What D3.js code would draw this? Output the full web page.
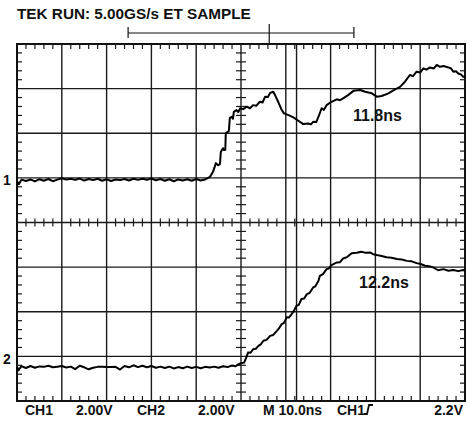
<!DOCTYPE html>
<meta charset="utf-8">
<head>
<script src="https://cdn.jsdelivr.net/npm/d3@7"></script>
<style>
body { margin: 0; background: #fff; }
text { font-family: "Liberation Sans", Arial, sans-serif; font-weight: bold; fill: #111; }
</style>
</head>
<body>
<div id="scope"></div>
<script>
// scope settings
var titleText = "TEK RUN: 5.00GS/s ET SAMPLE";
var footerLabels = ["CH1", "2.00V", "CH2", "2.00V", "M 10.0ns", "CH1", "2.2V"];
var footerX = [25, 76, 137, 198, 263, 337, 463];
var voltsPerDiv = 2;
var ch1Pos = 0.95;   // ground marker, divisions above centre
var ch2Pos = -3.08;
var cursorTimes = [24.8, 75.2];   // ns, time bar ends
var triggerTime = 56.3;
var extraCursor = 62.4;
var measureLabels = ["11.8ns", "12.2ns"];

// CH1 trace [ns, V]
var ch1 = [
  [0,-0.05],[0.4,-0.18],[1,0.02],[2,-0.04],[3,0.03],[4,-0.06],[5,0.04],[6,-0.03],[7,0.05],[8,-0.05],
  [9,0.02],[10,0.08],[11,0.03],[12,0.06],[13,0.01],[14,0.07],[15,-0.02],[16,0.05],[17,0.0],[18,0.06],
  [19,-0.03],[20,0.04],[21,-0.04],[22,0.03],[23,0.0],[24,0.05],[25,-0.02],[26,0.06],[27,0.01],[28,0.06],
  [29,0.02],[30,0.07],[31,-0.01],[32,0.05],[33,-0.03],[34,0.04],[35,-0.05],[36,0.03],[37,-0.02],[38,0.04],
  [39,-0.03],[40,0.05],[41,-0.02],[42,0.03],
  [43.1,0.15],[43.75,0.37],[44.4,0.76],[44.9,0.67],[45.3,0.72],[45.5,1.27],[46.0,1.43],[46.2,1.35],
  [46.5,1.36],[46.6,2.11],[47.1,2.17],[47.3,2.2],[47.5,2.78],[47.9,2.84],[48.2,2.75],[48.4,3.06],
  [49.0,3.14],[49.4,3.05],[49.8,3.22],[50.5,3.18],[51.3,3.29],[52.0,3.22],[52.7,3.36],[53.4,3.33],
  [54.2,3.51],[54.8,3.48],[55.4,3.74],[56.0,3.72],[56.5,3.91],[57.2,3.96],[57.6,3.81],[58.3,3.51],
  [59.1,3.14],[59.6,2.99],[60.6,2.91],[61.7,2.81],[62.8,2.66],[63.9,2.51],[65.0,2.54],[65.6,2.5],
  [66.1,2.61],[66.8,2.6],[67.3,2.84],[68.0,3.22],[68.5,3.15],[69.1,3.36],[70.2,3.51],[71.4,3.62],
  [72.1,3.58],[72.8,3.66],[73.9,3.81],[75.1,4.0],[76.6,4.04],[77.7,3.96],[79.2,3.89],[80.3,3.74],
  [81.4,3.77],[82.9,3.89],[84.4,4.07],[85.5,4.18],[86.6,4.41],[87.7,4.71],[88.4,4.66],[89.2,4.86],
  [90.0,4.82],[90.7,5.01],[91.4,4.95],[92.2,5.05],[93.0,5.0],[93.7,5.16],[94.4,5.08],[95.2,5.11],
  [96.3,5.05],[96.9,5.0],[97.4,4.86],[98.0,4.88],[98.5,4.78],[99.1,4.74],[99.6,4.63],[100,4.62]
];

// CH2 trace [ns, V]
var ch2 = [
  [0,-0.3],[0.3,-0.47],[1,-0.28],[2,-0.36],[3,-0.27],[4,-0.35],[5,-0.29],[6,-0.31],[7,-0.26],[8,-0.33],
  [9,-0.3],[10,-0.27],[11,-0.34],[12,-0.3],[13,-0.41],[14,-0.26],[15,-0.33],[16,-0.42],[17,-0.35],[18,-0.31],
  [19,-0.31],[20,-0.32],[21,-0.32],[22,-0.31],[23,-0.43],[24,-0.27],[25,-0.33],[26,-0.24],[27,-0.32],[28,-0.26],
  [29,-0.33],[30,-0.27],[31,-0.35],[32,-0.3],[33,-0.36],[34,-0.3],[35,-0.38],[36,-0.32],[37,-0.37],[38,-0.3],
  [39,-0.36],[40,-0.31],[41,-0.37],[42,-0.31],[43,-0.34],[44,-0.3],[45,-0.35],[46,-0.28],[47,-0.32],
  [48,-0.25],[48.8,-0.28],[49.4,-0.19],[50.2,-0.14],[50.7,-0.12],[51.1,0.07],[51.6,0.34],[52.1,0.32],
  [52.7,0.48],[53.3,0.5],[53.9,0.63],[54.4,0.7],[55.0,0.86],[55.7,0.9],[56.5,1.08],[57.2,1.12],
  [58.0,1.3],[58.5,1.42],[59.1,1.61],[59.6,1.66],[60.2,1.91],[60.7,1.9],[61.3,2.05],[61.8,2.2],
  [62.4,2.43],[62.9,2.47],[63.5,2.73],[64.1,2.75],[64.7,2.95],[65.3,3.0],[66.1,3.25],[66.6,3.3],
  [67.3,3.55],[67.6,3.77],[68.3,3.85],[69.1,4.07],[69.6,4.1],[70.2,4.25],[71.4,4.37],[72.1,4.38],
  [72.8,4.55],[73.6,4.6],[74.7,4.78],[75.8,4.8],[76.9,4.85],[77.8,4.8],[78.8,4.82],[79.5,4.74],
  [80.3,4.7],[81.4,4.66],[82.5,4.6],[83.6,4.58],[84.8,4.52],[85.9,4.5],[87.0,4.44],[88.1,4.42],
  [89.2,4.34],[90.1,4.3],[91.1,4.22],[92.0,4.2],[92.9,4.15],[94.0,4.02],[95.2,4.07],[96.3,4.0],
  [97.4,4.03],[98.5,3.98],[99.6,4.03],[100,4.0]
];

var width = 469, height = 427;
var gx0 = 17, gx1 = 465, gy0 = 44, gy1 = 401;

var x = d3.scaleLinear().domain([0, 100]).range([gx0, gx1]);
var y = d3.scaleLinear().domain([-4, 4]).range([gy1, gy0]);

var svg = d3.select("#scope").append("svg")
    .attr("width", width)
    .attr("height", height);

// title
svg.append("text")
    .attr("x", 17).attr("y", 19)
    .style("font-size", "15.3px")
    .text(titleText);

// time cursor bar above graticule
var bar = svg.append("g").attr("stroke", "#111").attr("stroke-width", 1.2);
bar.append("line").attr("x1", x(cursorTimes[0])).attr("x2", x(cursorTimes[1]))
    .attr("y1", 33).attr("y2", 33);
cursorTimes.forEach(function(t) {
  bar.append("line").attr("x1", x(t)).attr("x2", x(t)).attr("y1", 27).attr("y2", 38);
});
bar.append("line").attr("x1", x(triggerTime)).attr("x2", x(triggerTime))
    .attr("y1", 24).attr("y2", gy0);

// graticule
var grid = svg.append("g").attr("stroke", "#1a1a1a").attr("stroke-width", 1.4);
d3.range(1, 10).forEach(function(i) {
  var t = i * 10;
  grid.append("line").attr("x1", x(t)).attr("x2", x(t)).attr("y1", gy0).attr("y2", gy1);
});
d3.range(-3, 4).forEach(function(d) {
  grid.append("line").attr("x1", gx0).attr("x2", gx1).attr("y1", y(d)).attr("y2", y(d));
});
grid.append("line").attr("x1", x(extraCursor)).attr("x2", x(extraCursor))
    .attr("y1", gy0).attr("y2", gy1);

// minor ticks
var ticks = svg.append("g").attr("stroke", "#1a1a1a").attr("stroke-width", 1.2);
d3.range(0, 100.01, 2).forEach(function(t) {
  if (t % 10 == 0) return;
  ticks.append("line").attr("x1", x(t)).attr("x2", x(t)).attr("y1", gy0).attr("y2", gy0 + 5);
  ticks.append("line").attr("x1", x(t)).attr("x2", x(t)).attr("y1", gy1).attr("y2", gy1 - 5);
  ticks.append("line").attr("x1", x(t)).attr("x2", x(t)).attr("y1", y(0) - 4).attr("y2", y(0) + 4);
});
d3.range(-4, 4.01, 0.2).forEach(function(d) {
  if (Math.abs(d - Math.round(d)) < 0.01) return;
  ticks.append("line").attr("x1", gx0).attr("x2", gx0 + 5).attr("y1", y(d)).attr("y2", y(d));
  ticks.append("line").attr("x1", gx1).attr("x2", gx1 - 5).attr("y1", y(d)).attr("y2", y(d));
  ticks.append("line").attr("x1", x(50) - 5).attr("x2", x(50) + 5).attr("y1", y(d)).attr("y2", y(d));
});

// border
svg.append("rect")
    .attr("x", gx0).attr("y", gy0)
    .attr("width", gx1 - gx0).attr("height", gy1 - gy0)
    .attr("fill", "none").attr("stroke", "#111").attr("stroke-width", 2);

// traces
function chLine(pos) {
  return d3.line()
    .x(function(d) { return x(d[0]); })
    .y(function(d) { return y(d[1] / voltsPerDiv + pos); });
}
svg.append("path").datum(ch1)
    .attr("d", chLine(ch1Pos))
    .attr("fill", "none").attr("stroke", "#000").attr("stroke-width", 2)
    .attr("stroke-linejoin", "round");
svg.append("path").datum(ch2)
    .attr("d", chLine(ch2Pos))
    .attr("fill", "none").attr("stroke", "#000").attr("stroke-width", 2)
    .attr("stroke-linejoin", "round");

// channel ground markers
svg.append("text").attr("x", 3).attr("y", y(ch1Pos) + 5).style("font-size", "14px").text("1");
svg.append("text").attr("x", 3).attr("y", y(ch2Pos) + 4).style("font-size", "14px").text("2");

// measurement readouts
svg.append("text").attr("x", 353).attr("y", 121).style("font-size", "16px").text(measureLabels[0]);
svg.append("text").attr("x", 359).attr("y", 288).style("font-size", "16px").text(measureLabels[1]);

// footer readouts
footerLabels.forEach(function(s, i) {
  svg.append("text")
    .attr("x", footerX[i]).attr("y", 415)
    .attr("text-anchor", i == footerLabels.length - 1 ? "end" : "start")
    .style("font-size", "14px")
    .text(s);
});
// rising edge symbol after trigger source
svg.append("path")
    .attr("d", "M364,414 L367,414 L369,405 L373,405")
    .attr("fill", "none").attr("stroke", "#111").attr("stroke-width", 1.8);
</script>
</body>
